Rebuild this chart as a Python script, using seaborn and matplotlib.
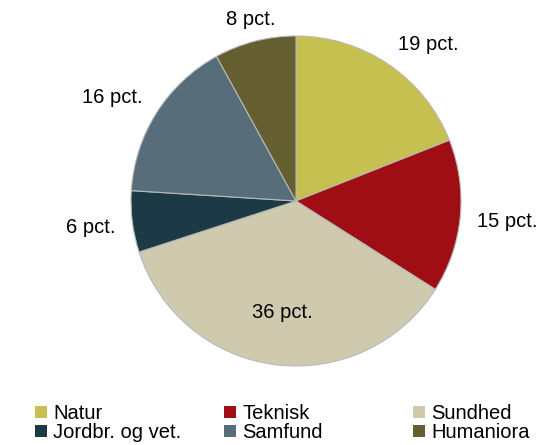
import numpy as np
import matplotlib
matplotlib.use("Agg")
import matplotlib.pyplot as plt
import matplotlib.patches as mpatches
import seaborn as sns

categories = ["Natur", "Teknisk", "Sundhed", "Jordbr. og vet.", "Samfund", "Humaniora"]
shares = [19, 15, 36, 6, 16, 8]
labels = ["19 pct.", "15 pct.", "36 pct.", "6 pct.", "16 pct.", "8 pct."]
colors = ["#C6C050", "#9E0E14", "#CFCAAE", "#1B3A45", "#576E7A", "#645E30"]

sns.set_theme(style="white")
plt.rcParams['font.family'] = ['Liberation Sans', 'DejaVu Sans']
plt.rcParams['text.color'] = 'black'
fs = 14.5

fig = plt.figure(figsize=(5.41, 4.45), dpi=100)
ax = fig.add_axes([131 / 541, 79 / 445, 330 / 541, 330 / 445])

wedges, _ = ax.pie(shares, colors=colors, startangle=90, counterclock=False,
                   radius=1, wedgeprops=dict(edgecolor="#b8b8b8", linewidth=0.8))
ax.set_xlim(-1, 1)
ax.set_ylim(-1, 1)
ax.set_aspect("equal")
ax.axis("off")

# labels: biggest slice inside, rest just outside the rim
for w, lab, val in zip(wedges, labels, shares):
    ang = np.deg2rad((w.theta1 + w.theta2) / 2)
    c, s = np.cos(ang), np.sin(ang)
    if val == max(shares):
        ax.text(0.68 * c, 0.68 * s, lab, ha="center", va="center", fontsize=fs)
        continue
    r = 1.1
    ha = "center" if abs(c) < 0.3 else ("left" if c > 0 else "right")
    va = "center" if abs(s) < 0.3 else ("bottom" if s > 0 else "top")
    ax.text(r * c, r * s - 0.02, lab, ha=ha, va=va, fontsize=fs, clip_on=False)

# legend: three columns, two rows
handles = [mpatches.Patch(facecolor=col, edgecolor="none") for col in colors]
col_x = [35, 224, 413]
for i, x in enumerate(col_x):
    idx = [i, i + 3]
    fig.legend([handles[j] for j in idx], [categories[j] for j in idx],
               loc="upper left", bbox_to_anchor=(x / 541, 1 - 404 / 445),
               frameon=False, fontsize=fs, handlelength=0.6, handleheight=0.6,
               handletextpad=0.3, labelspacing=0.0, borderpad=0, borderaxespad=0)

fig.savefig("out.png", dpi=100)
